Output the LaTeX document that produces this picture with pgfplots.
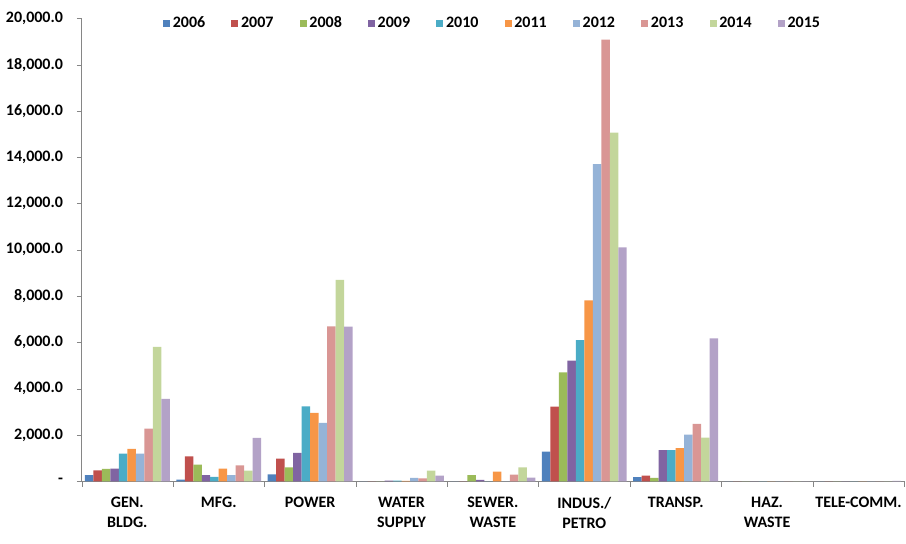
\documentclass[border=0pt]{standalone}
\usepackage{fontspec}
\setmainfont{Carlito}
\usepackage{pgfplots}
\usepackage{pgfplotstable}
\pgfplotsset{compat=1.18}

\definecolor{c2006}{RGB}{79,129,189}
\definecolor{c2007}{RGB}{192,80,77}
\definecolor{c2008}{RGB}{155,187,89}
\definecolor{c2009}{RGB}{128,100,162}
\definecolor{c2010}{RGB}{75,172,198}
\definecolor{c2011}{RGB}{247,150,70}
\definecolor{c2012}{RGB}{149,179,215}
\definecolor{c2013}{RGB}{217,150,148}
\definecolor{c2014}{RGB}{195,214,155}
\definecolor{c2015}{RGB}{179,162,199}
\definecolor{axgray}{RGB}{134,134,134}

% values by sector (0..8) and year
\pgfplotstableread{
x  a2006 a2007 a2008 a2009 a2010 a2011 a2012 a2013 a2014 a2015
0  260   470   540   550   1190  1400  1190  2270  5810  3560
1  70    1075  720   260   190   550   260   690   460   1870
2  300   980   600   1230  3240  2960  2520  6690  8700  6680
3  0     0     0     30    30    20    150   130   460   245
4  0     0     260   60    0     420   0     290   600   160
5  1280  3230  4710  5210  6100  7820  13700 19080 15060 10110
6  175   245   145   1350  1350  1435  2020  2480  1890  6170
7  0     0     0     0     0     0     0     0     0     0
8  0     0     0     0     0     0     0     0     0     20
}\sectors

\newcommand{\lblfont}{\fontsize{12}{15}\selectfont\bfseries}

\begin{document}
\begin{tikzpicture}
\begin{axis}[
    name=ax,
    scale only axis,
    width=617.5pt, height=347.5pt,
    ybar=0pt, bar width=0.0929,
    xmin=-0.5, xmax=8.5,
    ymin=0, ymax=20000,
    enlargelimits=false,
    scaled y ticks=false,
    axis lines=left,
    axis line style={-, draw=axgray},
    tick align=outside,
    xtick={0,...,8},
    xticklabels={{GEN.\\BLDG.},{MFG.},{POWER},{WATER\\SUPPLY},{SEWER.\\WASTE},{INDUS./\\PETRO},{TRANSP.},{HAZ.\\WASTE},{TELE-COMM.}},
    major x tick style={draw=none},
    minor xtick={-0.5,0.5,...,8.5},
    minor x tick style={draw=axgray},
    minor tick length=4pt,
    xticklabel style={align=center, font=\lblfont, yshift=-4.75pt},
    ytick={0,2000,...,20000},
    yticklabels={{-},{2,000.0},{4,000.0},{6,000.0},{8,000.0},{10,000.0},{12,000.0},{14,000.0},{16,000.0},{18,000.0},{20,000.0}},
    major y tick style={draw=axgray},
    major tick length=3.5pt,
    yticklabel style={font=\lblfont, xshift=-7pt},
    legend columns=10,
    legend style={at={(0.5,1)}, anchor=center, yshift=-3.8pt, draw=none, fill=none,
        font=\lblfont, /tikz/every even column/.append style={column sep=17.7pt}},
    legend image code/.code={\fill[#1] (0pt,-2.6pt) rectangle (5.25pt,2.6pt);},
]
\addplot[fill=c2006, draw=none] table[x=x, y=a2006] {\sectors};
\addplot[fill=c2007, draw=none] table[x=x, y=a2007] {\sectors};
\addplot[fill=c2008, draw=none] table[x=x, y=a2008] {\sectors};
\addplot[fill=c2009, draw=none] table[x=x, y=a2009] {\sectors};
\addplot[fill=c2010, draw=none] table[x=x, y=a2010] {\sectors};
\addplot[fill=c2011, draw=none] table[x=x, y=a2011] {\sectors};
\addplot[fill=c2012, draw=none] table[x=x, y=a2012] {\sectors};
\addplot[fill=c2013, draw=none] table[x=x, y=a2013] {\sectors};
\addplot[fill=c2014, draw=none] table[x=x, y=a2014] {\sectors};
\addplot[fill=c2015, draw=none] table[x=x, y=a2015] {\sectors};
\legend{2006,2007,2008,2009,2010,2011,2012,2013,2014,2015}
\end{axis}
% keep the canvas at the reference size
\path (ax.south west) ++(-61.3pt,-46.7pt) rectangle ++(679.5pt,408pt);
\end{tikzpicture}
\end{document}
